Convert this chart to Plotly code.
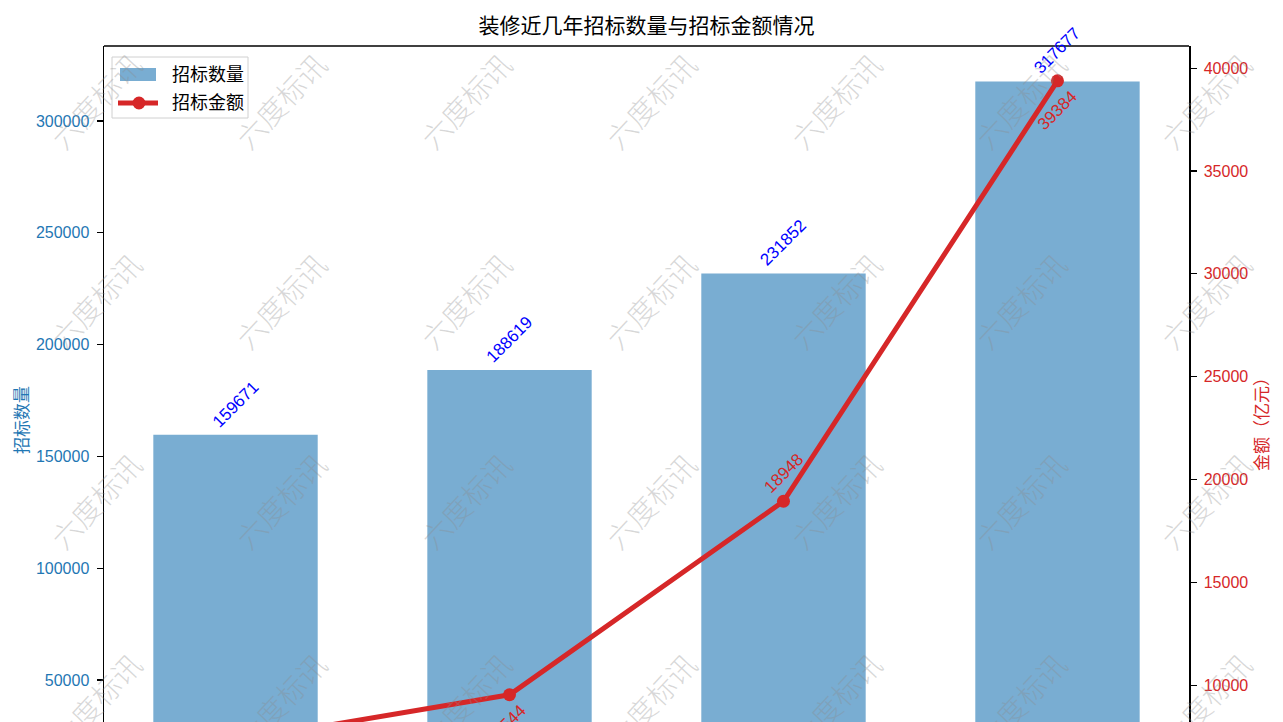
import plotly.graph_objects as go

categories = ["2020年", "2021年", "2022年", "2023年"]
counts = [159671, 188619, 231852, 317677]
amounts = [7300, 9544, 18948, 39384]

title = "装修近几年招标数量与招标金额情况"
watermark = "六度标讯"
legend_names = ["招标数量", "招标金额"]
left_title = "招标数量"
right_title = "金额（亿元）"

W, H = 1283, 722
L, R, T, B = 104, 1189, 46, 722
pw, ph = R - L, B - T

FONT = "Liberation Sans, Arial, Noto Sans CJK SC, sans-serif"
BLUE = "#1f77b4"
RED = "#d62728"
BAR_FILL = "rgba(31,119,180,0.6)"


def px(x):
    return (x - L) / pw


def py(y):
    return (B - y) / ph


fig = go.Figure()
fig.add_trace(go.Bar(
    x=list(range(len(categories))), y=counts, width=0.6,
    marker=dict(color=BAR_FILL, line=dict(width=0)),
    name=legend_names[0], yaxis="y", showlegend=False,
))
fig.add_trace(go.Scatter(
    x=list(range(len(categories))), y=amounts, mode="lines+markers",
    line=dict(color=RED, width=5), marker=dict(color=RED, size=13),
    name=legend_names[1], yaxis="y2", showlegend=False,
))

ann = []
for i, v in enumerate(counts):
    ann.append(dict(x=i, y=v, xref="x", yref="y", text=str(v), showarrow=False,
                    textangle=-45, xanchor="center", yanchor="bottom", yshift=1,
                    font=dict(color="blue", size=17, family=FONT)))
for i, v in enumerate(amounts):
    above = (i % 2 == 0)
    ann.append(dict(x=i, y=v, xref="x", yref="y2", text=str(v), showarrow=False,
                    textangle=-45, xanchor="center",
                    yanchor="bottom" if above else "top",
                    yshift=2 if above else -4,
                    font=dict(color=RED, size=17, family=FONT)))

# watermarks
for row in range(4):
    for col in range(7):
        ann.append(dict(x=px(95 + col * 185), y=py(100 + row * 200),
                        xref="paper", yref="paper",
                        text=watermark, showarrow=False, textangle=-47,
                        xanchor="center", yanchor="middle",
                        font=dict(color="rgba(140,140,140,0.34)", size=29,
                                  family="Noto Sans CJK SC", weight=300)))

# axis titles (centered on the full original axes height)
ann.append(dict(x=px(22), y=py(420), xref="paper", yref="paper",
                text=left_title, showarrow=False, textangle=-90,
                xanchor="center", yanchor="middle",
                font=dict(color=BLUE, size=17, family=FONT)))
ann.append(dict(x=px(1262), y=py(420), xref="paper", yref="paper",
                text=right_title, showarrow=False, textangle=-90,
                xanchor="center", yanchor="middle",
                font=dict(color=RED, size=17, family=FONT)))

# legend (drawn by hand to match the wide patch style)
for k, name in enumerate(legend_names):
    ann.append(dict(x=px(170), y=py(75 + k * 28), xref="paper", yref="paper",
                    text=name, showarrow=False, xanchor="left", yanchor="middle",
                    font=dict(color="black", size=18, family=FONT)))

shapes = [
    dict(type="line", xref="paper", yref="paper", x0=0, x1=1, y0=1, y1=1,
         line=dict(color="black", width=1.5)),
    dict(type="rect", xref="paper", yref="paper", x0=px(112), x1=px(248),
         y0=py(118), y1=py(57), fillcolor="rgba(255,255,255,0.8)",
         line=dict(color="#d0d0d0", width=1)),
    dict(type="rect", xref="paper", yref="paper", x0=px(120), x1=px(156),
         y0=py(81), y1=py(68), fillcolor=BAR_FILL, line=dict(width=0)),
    dict(type="line", xref="paper", yref="paper", x0=px(118), x1=px(158),
         y0=py(103), y1=py(103), line=dict(color=RED, width=5)),
    dict(type="circle", xref="paper", yref="paper", x0=px(132.5), x1=px(145.5),
         y0=py(109.5), y1=py(96.5), fillcolor=RED, line=dict(width=0)),
]

fig.update_layout(
    width=W, height=H,
    margin=dict(l=L, r=W - R, t=T, b=0, pad=0),
    paper_bgcolor="white", plot_bgcolor="white",
    font=dict(family=FONT, size=16, color="black"),
    title=dict(text=title, x=(L + R) / 2 / W, xanchor="center", y=1 - 26 / H,
               yanchor="middle", font=dict(size=21, color="black", family=FONT)),
    showlegend=False,
    hovermode=False,
    xaxis=dict(range=[-0.48, 3.48], showline=False, showgrid=False, zeroline=False,
               showticklabels=False, ticks="", tickvals=list(range(len(categories))),
               ticktext=categories),
    yaxis=dict(range=[31216, 333561], showgrid=False, zeroline=False,
               showline=True, linecolor="black", linewidth=1.5,
               ticks="outside", ticklen=6, tickwidth=1.2, tickcolor="black",
               tickvals=[50000, 100000, 150000, 200000, 250000, 300000],
               tickformat="d",
               tickfont=dict(color=BLUE, size=16, family=FONT), ticklabelstandoff=4),
    yaxis2=dict(range=[8220, 41075], overlaying="y", side="right", showgrid=False,
                zeroline=False, showline=True, linecolor="black", linewidth=1.5,
                ticks="outside", ticklen=6, tickwidth=1.2, tickcolor="black",
                tickvals=[10000, 15000, 20000, 25000, 30000, 35000, 40000],
                tickformat="d",
                tickfont=dict(color=RED, size=16, family=FONT), ticklabelstandoff=4),
    annotations=ann,
    shapes=shapes,
)

fig.write_html("out.html", config={"displayModeBar": False, "staticPlot": True},
               post_script="document.body.style.margin='0px';document.body.style.overflow='hidden';")
